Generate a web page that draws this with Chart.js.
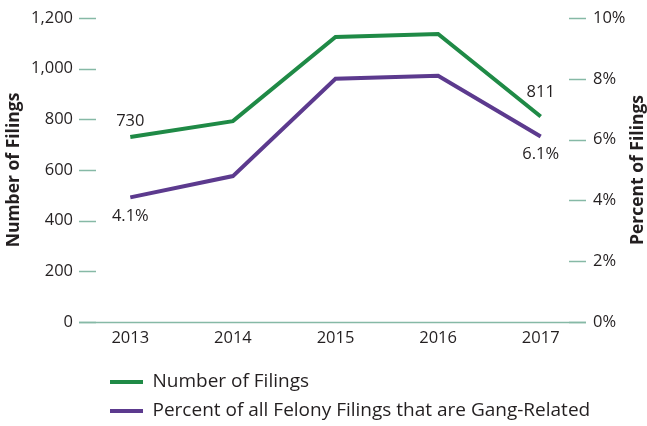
<!DOCTYPE html>
<html>
<head>
<meta charset="utf-8">
<script src="https://cdn.jsdelivr.net/npm/chart.js@4.4.1/dist/chart.umd.min.js"></script>
<style>
  html, body { margin: 0; padding: 0; background: #fff; }
  #wrap { width: 647px; height: 426px; }
</style>
</head>
<body>
<div id="wrap"><canvas id="filings"></canvas></div>
<script>
// data
const years = ["2013", "2014", "2015", "2016", "2017"];
const filings = [730, 793, 1125, 1137, 811];
const percentGang = [4.1, 4.8, 8.0, 8.1, 6.1];
const leftTicks = [0, 200, 400, 600, 800, 1000, 1200];
const rightTicks = [0, 2, 4, 6, 8, 10];

const GREEN = "#1f8a46";
const PURPLE = "#5c3a8e";
const TICK = "#86b9a6";
const TEXT = "#231f20";
const FONT = "'Open Sans', 'Noto Sans', sans-serif";

// labels on first / last points
const pointLabels = [
  { ds: 0, idx: 0, dy: -16 },
  { ds: 0, idx: 4, dy: -24 },
  { ds: 1, idx: 0, dy: 19 },
  { ds: 1, idx: 4, dy: 18 },
];

const decor = {
  id: "decor",
  beforeDraw(chart) {
    // nudge legend to where it sits in the original
    const lg = chart.legend;
    const w = lg.right - lg.left;
    lg.left = 100;
    lg.right = 100 + w;
    lg.top = 362.5;
  },
  beforeDatasetsDraw(chart) {
    const ctx = chart.ctx;
    const area = chart.chartArea;
    const yL = chart.scales.yL;
    const yR = chart.scales.yR;
    ctx.save();
    ctx.strokeStyle = TICK;
    ctx.lineWidth = 1.5;
    leftTicks.forEach((v) => {
      const y = Math.round(yL.getPixelForValue(v)) + 0.5;
      ctx.beginPath();
      ctx.moveTo(area.left, y);
      ctx.lineTo(area.left + 17, y);
      ctx.stroke();
    });
    rightTicks.forEach((v) => {
      const y = Math.round(yR.getPixelForValue(v)) + 0.5;
      ctx.beginPath();
      ctx.moveTo(area.right - 23, y);
      ctx.lineTo(area.right - 6, y);
      ctx.stroke();
    });
    const y0 = Math.round(yL.getPixelForValue(0)) + 0.5;
    ctx.beginPath();
    ctx.moveTo(area.left, y0);
    ctx.lineTo(area.right - 6, y0);
    ctx.stroke();
    ctx.restore();
  },
  afterDatasetsDraw(chart) {
    const ctx = chart.ctx;
    ctx.save();
    ctx.fillStyle = TEXT;
    ctx.font = "16.5px " + FONT;
    ctx.textAlign = "center";
    ctx.textBaseline = "middle";
    pointLabels.forEach((p) => {
      const pt = chart.getDatasetMeta(p.ds).data[p.idx];
      const v = chart.data.datasets[p.ds].data[p.idx];
      const txt = p.ds === 0 ? String(v) : v.toFixed(1) + "%";
      ctx.fillText(txt, pt.x, pt.y + p.dy);
    });
    // right axis title, reading bottom to top
    const area = chart.chartArea;
    ctx.font = "bold 17.5px " + FONT;
    ctx.translate(638, (area.top + area.bottom) / 2);
    ctx.rotate(-Math.PI / 2);
    ctx.fillText("Percent of Filings", 0, 0);
    ctx.restore();
  },
};

new Chart("filings", {
  type: "line",
  data: {
    labels: years,
    datasets: [
      {
        label: "Number of Filings",
        data: filings,
        yAxisID: "yL",
        borderColor: GREEN,
        backgroundColor: GREEN,
        borderWidth: 4,
        pointRadius: 0,
        fill: false,
      },
      {
        label: "Percent of all Felony Filings that are Gang-Related",
        data: percentGang,
        yAxisID: "yR",
        borderColor: PURPLE,
        backgroundColor: PURPLE,
        borderWidth: 4,
        pointRadius: 0,
        fill: false,
      },
    ],
  },
  options: {
    responsive: true,
    maintainAspectRatio: false,
    animation: false,
    devicePixelRatio: 1,
    layout: { padding: { top: 18, left: 0, right: 0, bottom: 0 } },
    plugins: {
      tooltip: { enabled: false },
      legend: {
        position: "bottom",
        align: "start",
        maxWidth: 560,
        labels: {
          boxWidth: 33,
          boxHeight: 4,
          padding: 10,
          color: TEXT,
          font: { family: FONT, size: 19 },
          generateLabels(chart) {
            return Chart.defaults.plugins.legend.labels
              .generateLabels(chart)
              .map((it) => ({ ...it, lineWidth: 0, strokeStyle: it.fillStyle }));
          },
        },
      },
    },
    scales: {
      x: {
        offset: true,
        grid: { display: false, drawTicks: false },
        border: { display: false },
        ticks: { color: TEXT, font: { family: FONT, size: 16.5 }, padding: 6 },
        afterFit(s) { s.height = 36; },
      },
      yL: {
        position: "left",
        min: 0,
        max: 1200,
        grid: { display: false, drawTicks: false },
        border: { display: false },
        ticks: {
          stepSize: 200,
          padding: 6,
          color: TEXT,
          font: { family: FONT, size: 16.5 },
          callback: (v) => v.toLocaleString("en-US"),
        },
        title: {
          display: true,
          text: "Number of Filings",
          color: TEXT,
          font: { family: FONT, size: 17.5, weight: "bold" },
          padding: 4,
        },
        afterFit(s) { s.width = 79; },
      },
      yR: {
        position: "right",
        min: 0,
        max: 10,
        grid: { display: false, drawTicks: false },
        border: { display: false },
        ticks: {
          stepSize: 2,
          padding: 1,
          color: TEXT,
          font: { family: FONT, size: 16.5 },
          callback: (v) => v + "%",
        },
        afterFit(s) { s.width = 55; },
      },
    },
  },
  plugins: [decor],
});
</script>
</body>
</html>
